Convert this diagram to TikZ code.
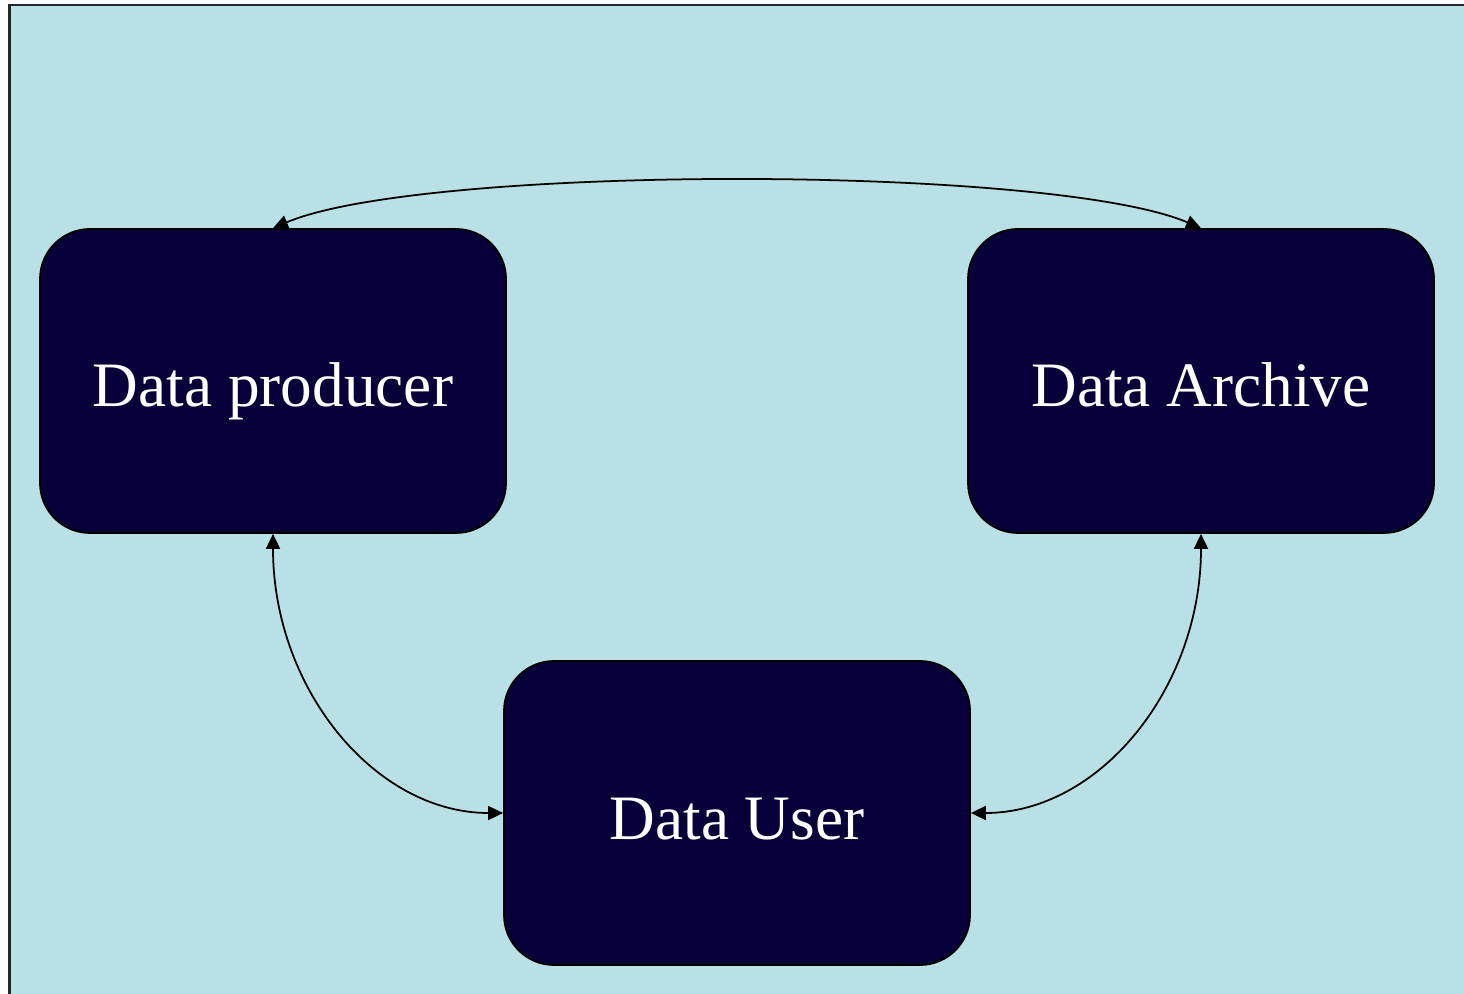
\documentclass[tikz,border=0pt]{standalone}
\usepackage{fontspec}
\setmainfont{Liberation Serif}
\usepackage{tikz}
\usetikzlibrary{positioning, arrows.meta, calc}
\definecolor{paleBlue}{RGB}{184,224,229}
\definecolor{deepNavy}{RGB}{8,0,56}
\tikzstyle{frame}=[fill=paleBlue, draw=black!85, line width=0.6pt]
\tikzstyle{dataBox}=[rectangle, rounded corners=0.5cm, fill=deepNavy, draw=black,
  line width=0.5pt, minimum width=4.66cm, minimum height=3.04cm,
  text height=0.52cm, text depth=0cm,
  text=white, font=\fontsize{18}{22}\selectfont]
\tikzstyle{arrow}=[{Triangle[length=1.5mm,width=1.4mm]}-{Triangle[length=1.5mm,width=1.4mm]},
  line width=0.5pt, draw=black]

\begin{document}
\begin{tikzpicture}
      \useasboundingbox (0,0) rectangle (14.64,-9.94);
      \path[frame] (0.095,-0.05) rectangle (15,-10.5);

      \node[dataBox] (producer) at (2.73,-3.81) {Data producer};
      \node[dataBox] (archive) at (12.01,-3.81) {Data Archive};
      \node[dataBox] (user) at (7.37,-8.13) {Data User};

      \draw[arrow] (producer.north) to[out=23, in=157, looseness=0.45] (archive.north);
      \draw[arrow] (producer.south) .. controls +(0,-1.55) and +(-1.28,0) .. (user.west);
      \draw[arrow] (archive.south) .. controls +(0,-1.55) and +(1.28,0) .. (user.east);
    \end{tikzpicture}
\end{document}
